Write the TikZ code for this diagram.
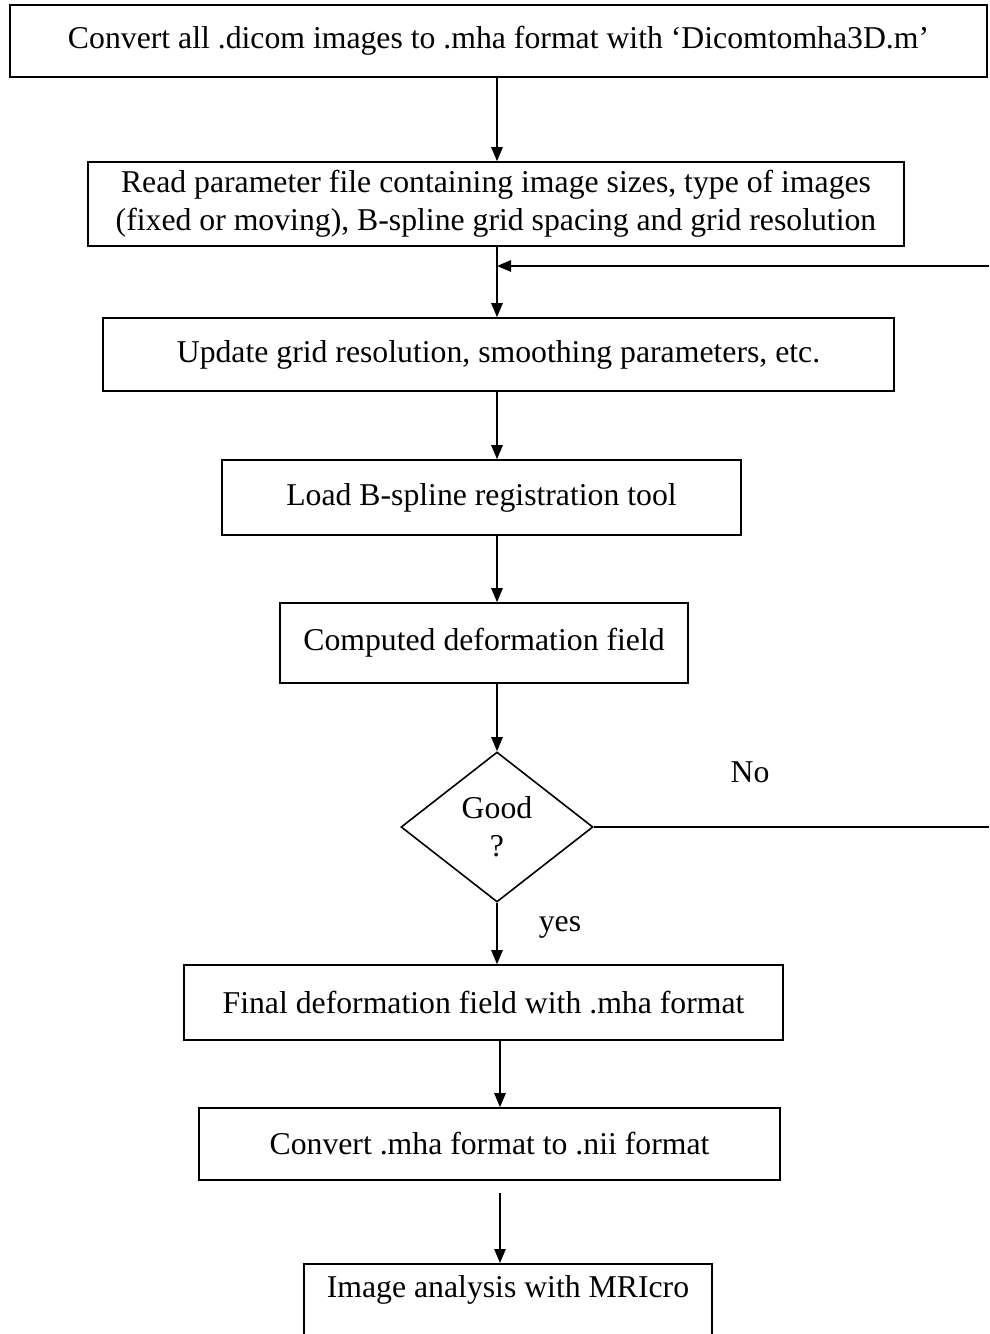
\documentclass[tikz,border=0pt]{standalone}
\usepackage{fontspec}
\setmainfont{Liberation Serif}
\usetikzlibrary{shapes.geometric,arrows.meta,positioning,calc}

\tikzset{
  box/.style={draw, line width=1.2pt, align=center, inner sep=0pt},
  arr/.style={line width=1.2pt, -{Triangle[length=10.5pt,width=8.5pt]}},
  ln/.style={line width=1.2pt},
}

\begin{document}
\begin{tikzpicture}[x=0.75pt,y=-0.75pt,font=\fontsize{23.8}{28.5}\selectfont]
\clip (0,0) rectangle (989,1334);
\useasboundingbox (0,0) rectangle (989,1334);

\node[box, minimum width=977*0.75pt, minimum height=72*0.75pt] (b0) at (498.5,41) {Convert all .dicom images to .mha format with ‘Dicomtomha3D.m’};
\node[box, minimum width=816*0.75pt, minimum height=84*0.75pt] (b1) at (496,204) {Read parameter file containing image sizes, type of images\\(fixed or moving), B-spline grid spacing and grid resolution};
\node[box, minimum width=791*0.75pt, minimum height=73*0.75pt] (b2) at (498.5,354.5) {Update grid resolution, smoothing parameters, etc.};
\node[box, minimum width=519*0.75pt, minimum height=75*0.75pt] (b3) at (481.5,497.5) {Load B-spline registration tool};
\node[box, minimum width=408*0.75pt, minimum height=80*0.75pt] (b4) at (484,643) {Computed deformation field};

\node[draw, diamond, ln, aspect=1.28, minimum width=192*0.75pt, minimum height=150*0.75pt, inner sep=0pt, align=center] (dec) at (497,827) {Good\\?};

\node[box, minimum width=599*0.75pt, minimum height=75*0.75pt] (b5) at (483.5,1002.5) {Final deformation field with .mha format};
\node[box, minimum width=581*0.75pt, minimum height=72*0.75pt] (b6) at (489.5,1144) {Convert .mha format to .nii format};
\node[box, anchor=north, minimum width=408*0.75pt, text height=18pt, text depth=60pt, inner ysep=7pt] (b7) at (508,1263) {Image analysis with MRIcro};

\node (no) at (750,772) {No};
\node (yes) at (560,927) {yes};

\coordinate (ax) at (497,0);
\coordinate (bx) at (500,0);
\coordinate (rt) at (989,266);
\coordinate (rd) at (989,827);
\coordinate (gap) at (500,1193);

\draw[arr] (b0.south -| ax) -- (b1.north -| ax);
\draw[arr] (b1.south -| ax) -- (b2.north -| ax);
\draw[arr] (rt) -- (rt -| ax);
\draw[arr] (b2.south -| ax) -- (b3.north -| ax);
\draw[arr] (b3.south -| ax) -- (b4.north -| ax);
\draw[arr] (b4.south -| ax) -- (dec.north);
\draw[ln] (dec.east) -- (rd);
\draw[arr] (dec.south) -- (dec.south |- b5.north);
\draw[arr] (b5.south -| bx) -- (b6.north -| bx);
\draw[arr] (gap) -- (b7.north -| gap);

\end{tikzpicture}
\end{document}
